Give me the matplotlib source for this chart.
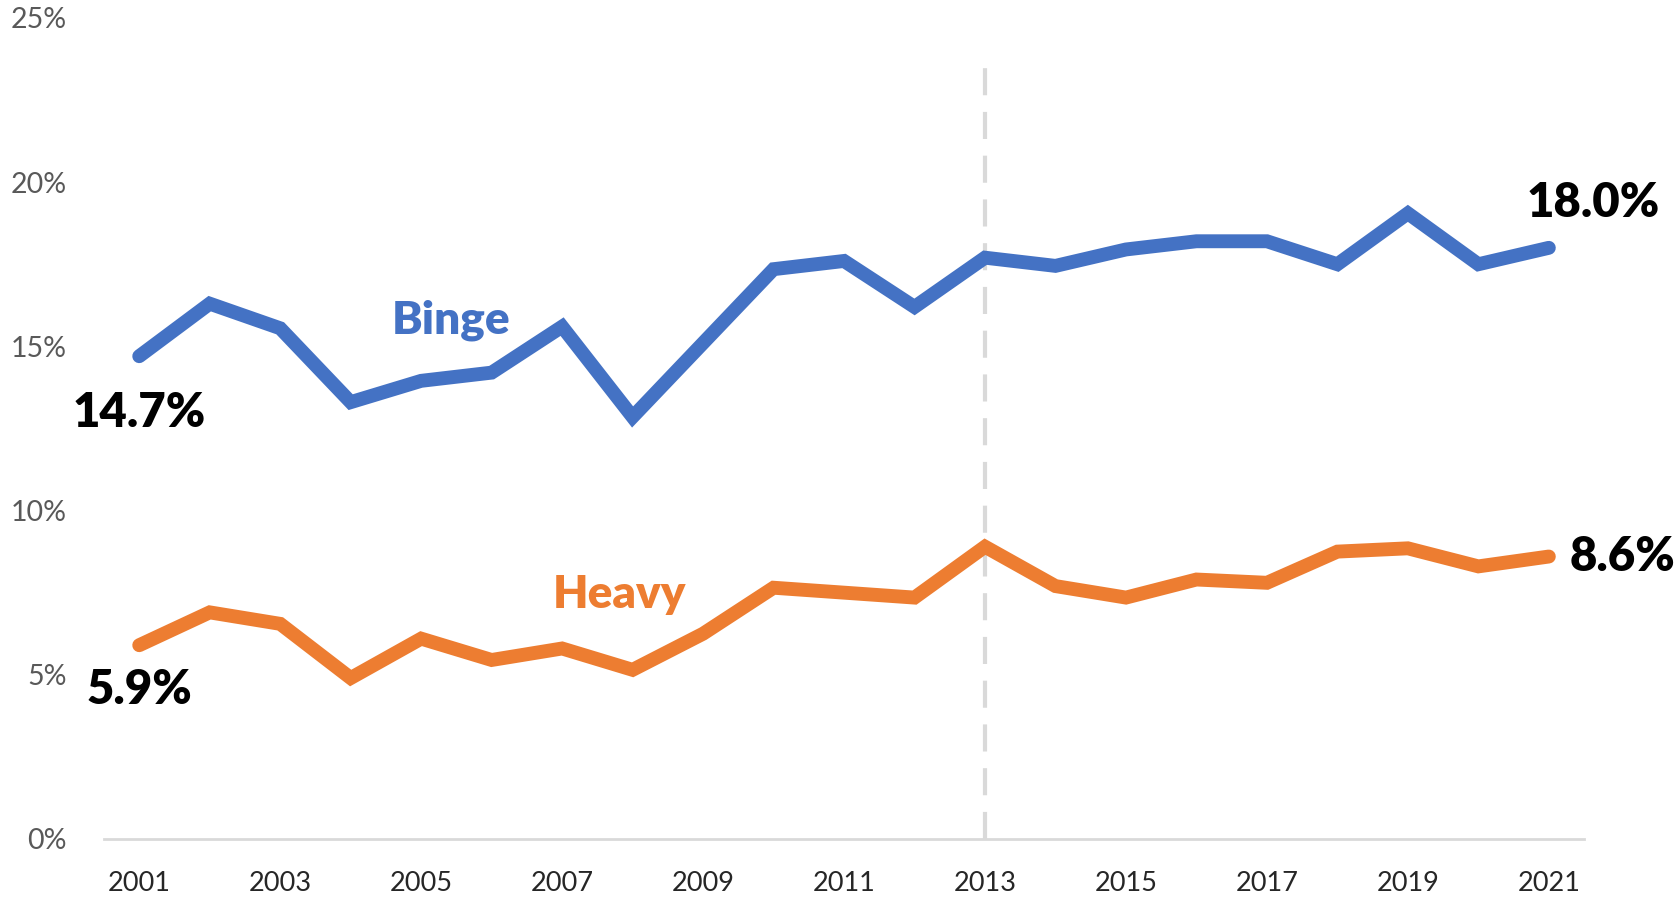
import matplotlib
matplotlib.use("Agg")
import matplotlib.pyplot as plt

plt.rcParams["font.family"] = ["Lato", "DejaVu Sans"]

years = list(range(2001, 2022))
binge = [14.7, 16.3, 15.55, 13.3, 13.95, 14.2, 15.6, 12.85, 15.1, 17.35, 17.6,
         16.2, 17.7, 17.45, 17.95, 18.2, 18.2, 17.5, 19.05, 17.5, 18.0]
heavy = [5.9, 6.9, 6.55, 4.9, 6.1, 5.45, 5.8, 5.15, 6.25, 7.65, 7.5,
         7.35, 8.9, 7.7, 7.35, 7.9, 7.8, 8.75, 8.85, 8.3, 8.6]
x_ticks = list(range(2001, 2022, 2))
y_ticks = [0, 5, 10, 15, 20, 25]
marker_year = 2013

BLUE = "#4472C4"
ORANGE = "#ED7D31"
GREY = "#D9D9D9"

fig = plt.figure(figsize=(16.8, 8.97), dpi=100)
ax = fig.add_axes([0.0619, 0.0647, 0.8810, 0.9153])

ax.plot(years, binge, color=BLUE, lw=10, solid_joinstyle="miter", solid_capstyle="round", zorder=3)
ax.plot(years, heavy, color=ORANGE, lw=10, solid_joinstyle="miter", solid_capstyle="round", zorder=3)

ax.axvline(marker_year, ymin=0, ymax=0.95, color=GREY, lw=3, dashes=(6.5, 4), zorder=2)

ax.set_xlim(2000.5, 2021.5)
ax.set_ylim(0, 25)
ax.set_xticks(x_ticks)
ax.set_xticklabels([str(y) for y in x_ticks])
ax.set_yticks(y_ticks)
ax.set_yticklabels([f"{v}%" for v in y_ticks])
ax.tick_params(axis="both", length=0, labelsize=19.5, labelcolor="#595959")
ax.tick_params(axis="x", pad=23, labelcolor="#262626")
ax.tick_params(axis="y", pad=27, labelsize=20.5)

for side in ["top", "left", "right"]:
    ax.spines[side].set_visible(False)
ax.spines["bottom"].set_color(GREY)
ax.spines["bottom"].set_linewidth(2)

# end-point labels
lab = dict(fontsize=34, fontweight="heavy", color="black", textcoords="offset points")
ax.annotate(f"{binge[0]:.1f}%", (years[0], binge[0]), xytext=(0, -41), ha="center", va="center", **lab)
ax.annotate(f"{heavy[0]:.1f}%", (years[0], heavy[0]), xytext=(0, -32), ha="center", va="center", **lab)
ax.annotate(f"{binge[-1]:.1f}%", (years[-1], binge[-1]), xytext=(32, 32), ha="center", va="center", **lab)
ax.annotate(f"{heavy[-1]:.1f}%", (years[-1], heavy[-1]), xytext=(15, 0), ha="left", va="center", **lab)

# series names
ax.text(2005.43, 15.8, "Binge", color=BLUE, fontsize=33, fontweight="heavy", ha="center", va="center")
ax.text(2007.82, 7.44, "Heavy", color=ORANGE, fontsize=33, fontweight="heavy", ha="center", va="center")

fig.savefig("out.png", dpi=100)
